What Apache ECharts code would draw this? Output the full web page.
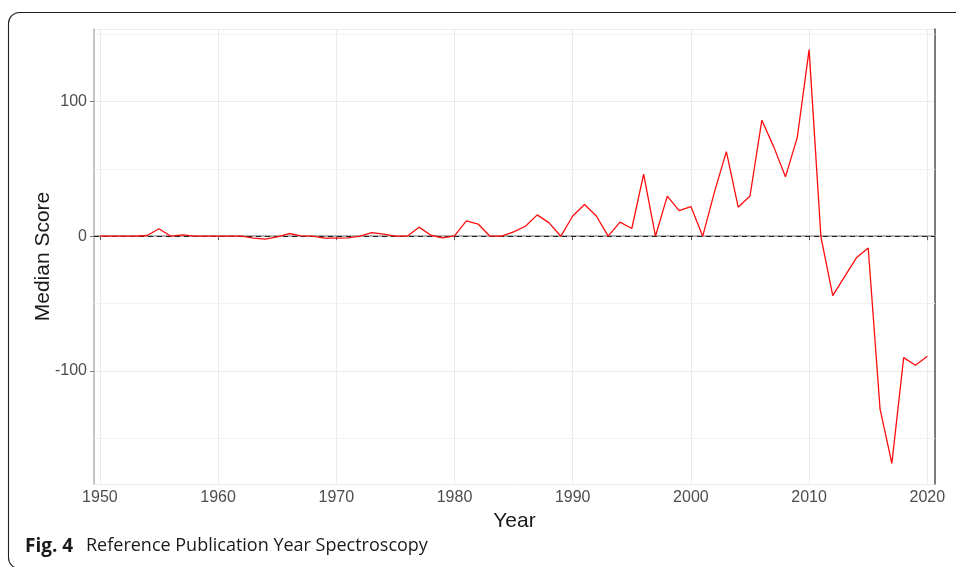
<!DOCTYPE html>
<html>
<head>
<meta charset="utf-8">
<style>
  html, body { margin: 0; padding: 0; background: #ffffff; }
  #chart { width: 956px; height: 567px; }
</style>
<script src="https://cdn.jsdelivr.net/npm/echarts@6/dist/echarts.min.js"></script>
</head>
<body>
<div id="chart"></div>
<script>
const years = [1950,1951,1952,1953,1954,1955,1956,1957,1958,1959,
  1960,1961,1962,1963,1964,1965,1966,1967,1968,1969,
  1970,1971,1972,1973,1974,1975,1976,1977,1978,1979,
  1980,1981,1982,1983,1984,1985,1986,1987,1988,1989,
  1990,1991,1992,1993,1994,1995,1996,1997,1998,1999,
  2000,2001,2002,2003,2004,2005,2006,2007,2008,2009,
  2010,2011,2012,2013,2014,2015,2016,2017,2018,2019,2020];
const medianScore = [0,0,0,0,0.5,5.5,0,1,0,0,
  0,0,0,-1.5,-2.2,-0.5,2,0.3,0,-1.5,
  -1.5,-1.3,0,2.7,1.5,0,0,6.7,0.7,-1.2,
  0.3,11.4,9,0,0,3.2,7.4,15.8,9.9,0,
  15,23.5,15,0,10.4,5.7,46,0,29.7,19,
  22,0,33,62.7,21.5,29.8,86,66.4,44,73.3,
  138.3,-0.5,-44,-30,-16,-8.7,-128,-168.4,-90,-95.7,-89];
const xTickLabels = [1950,1960,1970,1980,1990,2000,2010,2020];
const yTickLabels = [-100,0,100];
const minorGrid = [-150,-50,50,150];
const refLine = 0;
const xLimits = [1949.5, 2020.65];
const yLimits = [-183.7, 153.6];
const captionBold = 'Fig. 4';
const captionText = 'Reference Publication Year Spectroscopy';
const xTitle = 'Year';
const yTitle = 'Median Score';

const chart = echarts.init(document.getElementById('chart'), null, {renderer: 'canvas'});
const tickFont = {color: '#4d4d4d', fontSize: 16, fontFamily: 'Liberation Sans, Arial, sans-serif'};
const gridColor = '#ebebeb';

const option = {
  animation: false,
  backgroundColor: '#ffffff',
  grid: {left: 94, top: 29, right: 21, bottom: 83, show: false},
  xAxis: [{
    type: 'value',
    min: xLimits[0], max: xLimits[1],
    splitNumber: 7, minInterval: 10, maxInterval: 10,
    name: xTitle, nameLocation: 'middle', nameGap: 21,
    nameTextStyle: {color: '#1a1a1a', fontSize: 21, fontFamily: 'Liberation Sans, Arial, sans-serif'},
    axisLine: {show: true, lineStyle: {color: '#5a5a5a', width: 1.5}},
    axisTick: {show: true, length: 4, lineStyle: {color: '#5a5a5a'}},
    axisLabel: Object.assign({showMinLabel: false, showMaxLabel: false, margin: 6,
      formatter: v => xTickLabels.includes(Math.round(v)) && Math.abs(v - Math.round(v)) < 1e-6 ? String(Math.round(v)) : ''}, tickFont),
    splitLine: {show: true, lineStyle: {color: gridColor, width: 1}}
  }, {
    type: 'value', position: 'top',
    min: xLimits[0], max: xLimits[1],
    axisLine: {show: true, lineStyle: {color: '#c4c4c4', width: 1.5}},
    axisTick: {show: false}, axisLabel: {show: false}, splitLine: {show: false}
  }],
  yAxis: [{
    type: 'value',
    min: yLimits[0], max: yLimits[1],
    minInterval: 100, maxInterval: 100, splitNumber: 3,
    name: yTitle, nameLocation: 'middle', nameGap: 40, nameRotate: 90,
    nameMoveOverlap: false,
    nameTextStyle: {color: '#1a1a1a', fontSize: 21, fontFamily: 'Liberation Sans, Arial, sans-serif'},
    axisLine: {show: true, lineStyle: {color: '#b5b5b5', width: 1.5}},
    axisTick: {show: true, length: 4, lineStyle: {color: '#7a7a7a'}},
    axisLabel: Object.assign({showMinLabel: false, showMaxLabel: false, margin: 7,
      formatter: v => yTickLabels.includes(Math.round(v)) && Math.abs(v - Math.round(v)) < 1e-6 ? String(Math.round(v)) : ''}, tickFont),
    splitLine: {show: true, lineStyle: {color: gridColor, width: 1}}
  }, {
    type: 'value', position: 'right',
    min: yLimits[0], max: yLimits[1],
    axisLine: {show: true, lineStyle: {color: '#555555', width: 1.5}},
    axisTick: {show: false}, axisLabel: {show: false}, splitLine: {show: false}
  }],
  series: [{
    type: 'line',
    data: years.map((y, i) => [y, medianScore[i]]),
    showSymbol: false,
    symbol: 'none',
    lineStyle: {color: '#ff0d0d', width: 1.3},
    z: 5,
    markLine: {
      silent: true, symbol: 'none', label: {show: false},
      data: minorGrid.map(v => ({yAxis: v, lineStyle: {color: '#f2f2f2', type: 'solid', width: 1}}))
        .concat([{yAxis: refLine, lineStyle: {color: '#222222', type: [5, 4], width: 1.1}}])
    }
  }],
  graphic: [
    {
      type: 'rect', silent: true,
      shape: {x: 8.5, y: 12.5, width: 1000, height: 556, r: 11},
      style: {fill: 'none', stroke: '#222222', lineWidth: 1.1}
    },
    {
      type: 'text', left: 25, top: 537, silent: true,
      style: {text: captionBold, fontFamily: 'Open Sans, Noto Sans, sans-serif', fontWeight: 'bold', fontSize: 19, fill: '#1a1a1a'}
    },
    {
      type: 'text', left: 86, top: 537, silent: true,
      style: {text: captionText, fontFamily: 'Open Sans, Noto Sans, sans-serif', fontSize: 18, fill: '#1a1a1a'}
    }
  ]
};
chart.setOption(option);
</script>
</body>
</html>
